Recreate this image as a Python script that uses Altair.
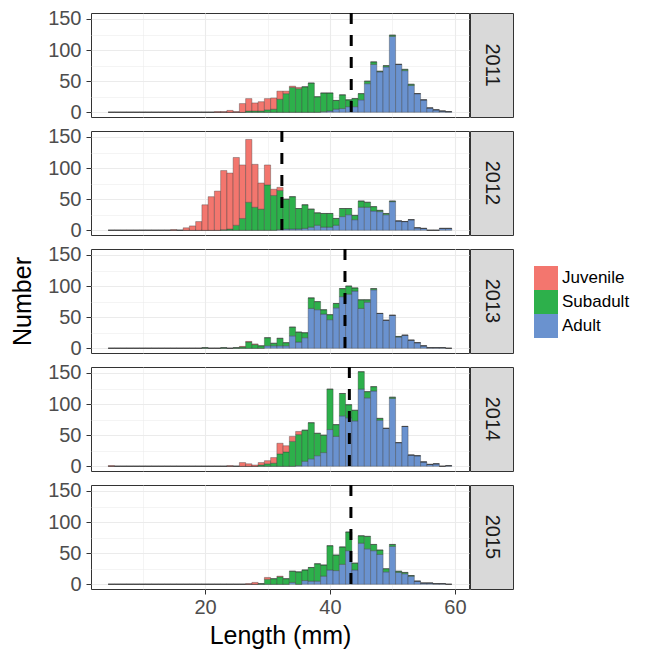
import altair as alt
import pandas as pd

YEARS = [2011, 2012, 2013, 2014, 2015]
STAGES = ["Juvenile", "Subadult", "Adult"]
STAGE_COLORS = ["#F3766E", "#2DB04B", "#6A92CF"]
FIRST_BIN, LAST_BIN = 5, 59
MEAN_LENGTH = [43.4, 32.3, 42.4, 43.1, 43.35]
X_GRID = [10, 20, 30, 40, 50, 60]
Y_GRID = [0, 25, 50, 75, 100, 125, 150]

# (first 1-mm bin, counts per bin)
juv_2011 = (22, [1, 1, 3, 1, 14, 20, 13, 15, 18, 18, 13, 4, 2, 2])
sub_2011 = (27, [2, 2, 2, 4, 5, 21, 30, 40, 38, 41, 47, 25, 30, 29, 14, 22, 11, 13, 10, 4, 4, 1, 2, 2, 0, 2, 2])
adu_2011 = (39, [1, 2, 5, 6, 9, 9, 20, 46, 77, 65, 73, 122, 77, 67, 43, 30, 20, 7, 4, 2, 1])

juv_2012 = (15, [1, 0, 4, 7, 14, 41, 54, 63, 95, 90, 109, 86, 101, 69, 42, 32, 10, 5])
sub_2012 = (23, [1, 2, 8, 19, 45, 37, 34, 73, 56, 63, 48, 52, 33, 38, 29, 20, 22, 22, 11, 13, 10, 7, 10, 8, 7, 2, 2, 1])
adu_2012 = (32, [1, 2, 2, 2, 3, 5, 8, 5, 5, 8, 22, 25, 17, 37, 37, 31, 30, 25, 46, 15, 14, 17, 4, 3, 0, 0, 3, 3])

juv_2013 = (26, [1, 1, 1])
sub_2013 = (20, [1, 0, 0, 1, 0, 1, 2, 10, 6, 4, 13, 4, 12, 5, 14, 16, 8, 17, 13, 7, 8, 7, 13, 13, 5, 14, 4, 2, 0, 0, 0, 1])
adu_2013 = (30, [4, 4, 4, 4, 20, 10, 17, 64, 62, 55, 46, 65, 83, 87, 92, 64, 74, 94, 56, 45, 53, 18, 21, 13, 9, 4, 1, 1, 1])

juv_2014 = (5, [1, 0, 0, 0, 0, 0, 0, 0, 0, 0, 0, 0, 0, 0, 0, 0, 0, 0, 0,
                1, 0, 6, 4, 2, 4, 5, 9, 17, 10, 8, 5])
sub_2014 = (29, [2, 4, 5, 20, 23, 40, 50, 50, 58, 36, 28, 65, 19, 36, 21, 17, 28, 10, 7, 3, 0, 2])
adu_2014 = (35, [1, 8, 12, 17, 22, 59, 48, 81, 78, 73, 124, 110, 121, 74, 61, 109, 38, 64, 18, 17, 7, 3, 4, 0, 1])

juv_2015 = (27, [1, 3, 0, 3, 0, 1])
sub_2015 = (29, [1, 8, 9, 12, 9, 18, 20, 17, 22, 28, 18, 39, 25, 28, 30, 11, 12, 20, 10, 7, 5, 3, 2, 2, 1])
adu_2015 = (34, [3, 0, 6, 5, 5, 13, 23, 22, 32, 54, 23, 66, 57, 54, 48, 20, 61, 19, 17, 13, 5, 2, 2, 1, 1])

series = {
    2011: {"Juvenile": juv_2011, "Subadult": sub_2011, "Adult": adu_2011},
    2012: {"Juvenile": juv_2012, "Subadult": sub_2012, "Adult": adu_2012},
    2013: {"Juvenile": juv_2013, "Subadult": sub_2013, "Adult": adu_2013},
    2014: {"Juvenile": juv_2014, "Subadult": sub_2014, "Adult": adu_2014},
    2015: {"Juvenile": juv_2015, "Subadult": sub_2015, "Adult": adu_2015},
}

rows = []
for year in YEARS:
    for b in range(FIRST_BIN, LAST_BIN + 1):
        base = 0
        for stage in ["Adult", "Subadult", "Juvenile"]:
            start, vals = series[year][stage]
            i = b - start
            c = vals[i] if 0 <= i < len(vals) else 0
            rows.append(dict(year=year, stage=stage, x0=b - 0.5, x1=b + 0.5,
                             y0=base, y1=base + c))
            base += c
df = pd.DataFrame(rows)
mean_df = pd.DataFrame({"year": YEARS, "mean": MEAN_LENGTH})

FONT = "Liberation Sans"
PW, PH = 378, 104
STRIP_W = 43

major_y = "datum.value % 50 == 0"
major_x = "datum.value % 20 == 0"

color_enc = alt.Color("stage:N", scale=alt.Scale(domain=STAGES, range=STAGE_COLORS),
                      legend=alt.Legend(title=None))


def panel(year, bottom, middle):
    y_axis = alt.Axis(values=Y_GRID, labelExpr=f"{major_y} ? datum.label : ''",
                      tickOpacity={"condition": {"test": major_y, "value": 1}, "value": 0},
                      gridWidth={"condition": {"test": major_y, "value": 1.1}, "value": 0.55},
                      gridColor="#EBEBEB", domain=False, tickColor="#333333", tickSize=5,
                      labelFontSize=20, labelColor="#4D4D4D", labelPadding=5,
                      title="Number", titleFontSize=25, titleFontWeight="normal",
                      titleColor="#000000", titlePadding=12,
                      titleOpacity=1 if middle else 0)
    if bottom:
        x_axis = alt.Axis(values=X_GRID, labelExpr=f"{major_x} ? datum.label : ''",
                          tickOpacity={"condition": {"test": major_x, "value": 1}, "value": 0},
                          gridWidth={"condition": {"test": major_x, "value": 1.1}, "value": 0.55},
                          gridColor="#EBEBEB", domain=False, tickColor="#333333", tickSize=5,
                          labelFontSize=20, labelColor="#4D4D4D", labelPadding=3,
                          title="Length (mm)", titleFontSize=25, titleFontWeight="normal",
                          titleColor="#000000", titlePadding=6)
    else:
        x_axis = alt.Axis(values=X_GRID, labels=False, ticks=False, domain=False, title=None,
                          gridWidth={"condition": {"test": major_x, "value": 1.1}, "value": 0.55},
                          gridColor="#EBEBEB")
    d = df[df.year == year]
    bars = alt.Chart(d).mark_rect(stroke="#333333", strokeWidth=0.5, strokeOpacity=0.7).encode(
        x=alt.X("x0:Q", scale=alt.Scale(domain=[1.75, 62.25], nice=False, zero=False), axis=x_axis),
        x2="x1:Q",
        y=alt.Y("y0:Q", scale=alt.Scale(domain=[-7.6, 159.6], nice=False, zero=False), axis=y_axis),
        y2="y1:Q",
        color=color_enc,
    )
    rule = alt.Chart(mean_df[mean_df.year == year]).mark_rule(
        color="black", strokeWidth=3, strokeDash=[11, 11]).encode(x="mean:Q")
    return alt.layer(bars, rule).properties(width=PW, height=PH)


def strip(year):
    return alt.Chart(pd.DataFrame({"year": [str(year)]})).mark_text(
        angle=90, fontSize=20, color="#1A1A1A", font=FONT).encode(
        text="year:N", x=alt.value(STRIP_W / 2), y=alt.value(PH / 2)
    ).properties(width=STRIP_W, height=PH, view=alt.ViewBackground(fill="#D9D9D9", stroke="#333333"))


rows_charts = []
for k, year in enumerate(YEARS):
    rows_charts.append(alt.hconcat(panel(year, k == len(YEARS) - 1, k == 2), strip(year), spacing=-3))

chart = alt.vconcat(*rows_charts, spacing=3).properties(
    padding={"left": 2, "top": 0, "right": 0, "bottom": 0}
).configure(font=FONT).configure_view(stroke="#333333", strokeWidth=1).configure_legend(
    orient="none", legendX=443, legendY=253, labelFontSize=17, labelColor="#000000",
    symbolType="square", symbolSize=576, symbolStrokeWidth=0, rowPadding=0, labelOffset=4,
    symbolOpacity=1
)

chart.save("out.html", embed_options={"renderer": "svg", "actions": False})
